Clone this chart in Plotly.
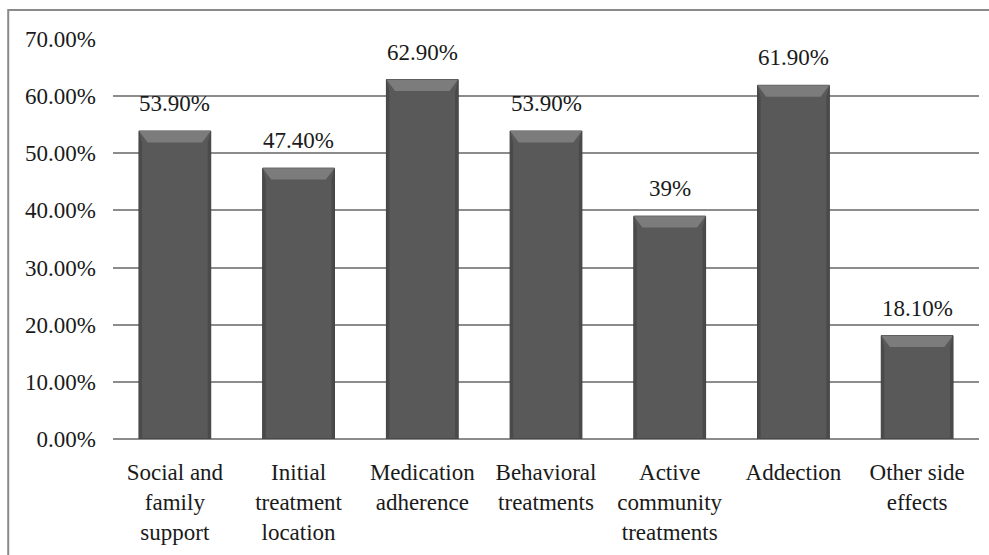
import plotly.graph_objects as go

categories = [
    "Social and<br>family<br>support",
    "Initial<br>treatment<br>location",
    "Medication<br>adherence",
    "Behavioral<br>treatments",
    "Active<br>community<br>treatments",
    "Addection",
    "Other side<br>effects",
]
values = [0.539, 0.474, 0.629, 0.539, 0.39, 0.619, 0.181]
value_labels = ["53.90%", "47.40%", "62.90%", "53.90%", "39%", "61.90%", "18.10%"]
tick_values = [0, 0.1, 0.2, 0.3, 0.4, 0.5, 0.6, 0.7]

FONT = "Liberation Serif"
TEXT_COLOR = "#1a1a1a"
BAR_FRAC = 0.58

fig = go.Figure()
fig.add_trace(go.Bar(
    x=list(range(len(categories))),
    y=values,
    width=BAR_FRAC,
    marker=dict(color="#595959", line=dict(color="#3c3c3c", width=1)),
    hoverinfo="skip",
))

# value labels above the bars
annotations = []
for i, (v, lab) in enumerate(zip(values, value_labels)):
    annotations.append(dict(
        x=i, y=v, xref="x", yref="y", text=lab, showarrow=False,
        yanchor="bottom", yshift=13,
        font=dict(family=FONT, size=23, color=TEXT_COLOR),
    ))

# bevelled edges of each bar, derived from the bar values
shapes = []
half = BAR_FRAC / 2
dx = 0.07
dy = 0.02
for i, v in enumerate(values):
    shapes.append(dict(
        type="path", xref="x", yref="y",
        path=(f"M {i-half},{v} L {i+half},{v} L {i+half-dx},{v-dy} "
              f"L {i-half+dx},{v-dy} Z"),
        fillcolor="#7c7c7c", line=dict(width=0), layer="above",
    ))
    shapes.append(dict(
        type="path", xref="x", yref="y",
        path=(f"M {i-half},{v} L {i-half+dx*0.35},{v-dy} "
              f"L {i-half+dx*0.35},0 L {i-half},0 Z"),
        fillcolor="#4a4a4a", line=dict(width=0), layer="above",
    ))
    shapes.append(dict(
        type="path", xref="x", yref="y",
        path=(f"M {i+half},{v} L {i+half-dx*0.35},{v-dy} "
              f"L {i+half-dx*0.35},0 L {i+half},0 Z"),
        fillcolor="#4a4a4a", line=dict(width=0), layer="above",
    ))

# outer frame of the chart area (top and left edges visible)
shapes.append(dict(
    type="rect", xref="paper", yref="paper",
    x0=-0.121, y0=-0.6, x1=1.2, y1=1.0725,
    line=dict(color="#8a8a8a", width=2), fillcolor="rgba(0,0,0,0)",
    layer="below",
))

fig.update_layout(
    width=989, height=555,
    margin=dict(l=113, r=10, t=39, b=116),
    paper_bgcolor="white", plot_bgcolor="white",
    font=dict(family=FONT, size=23, color=TEXT_COLOR),
    showlegend=False,
    bargap=0.42,
    shapes=shapes,
    annotations=annotations,
    xaxis=dict(
        tickmode="array",
        tickvals=list(range(len(categories))),
        ticktext=categories,
        range=[-0.5, len(categories) - 0.5],
        showgrid=False, showline=False, ticks="",
        tickfont=dict(family=FONT, size=23, color=TEXT_COLOR),
        ticklabelstandoff=17,
    ),
    yaxis=dict(
        range=[0, 0.7],
        tickvals=tick_values,
        tickformat=".2%",
        showgrid=True, gridcolor="#8c8c8c", gridwidth=1.5,
        zeroline=True, zerolinecolor="#8c8c8c", zerolinewidth=1.5,
        showline=False, ticks="",
        ticklabelstandoff=16,
        tickfont=dict(family=FONT, size=23, color=TEXT_COLOR),
    ),
)

fig.write_html("out.html")
